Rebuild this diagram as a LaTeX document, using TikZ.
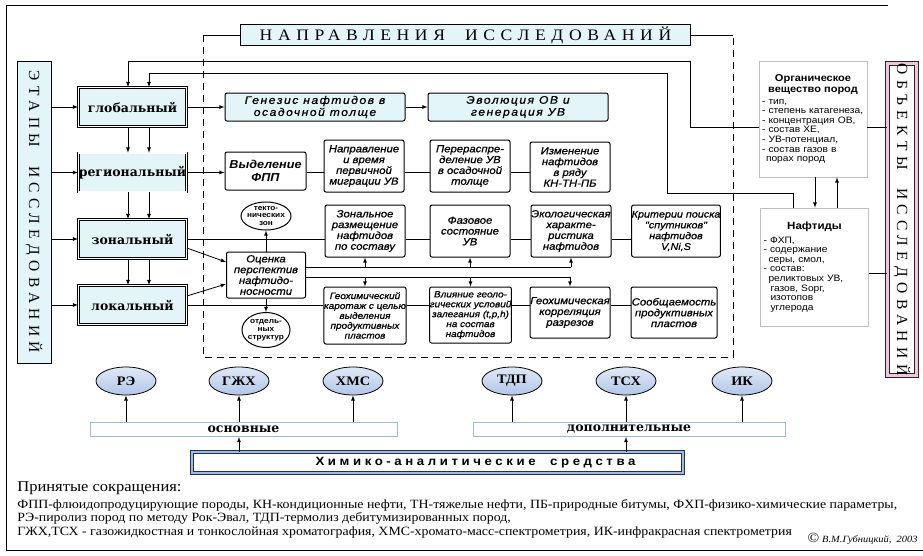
\documentclass[tikz,border=0pt]{standalone}
\usepackage{fontspec}
\setmainfont{Liberation Serif}[FakeStretch=1.1]
\setsansfont{Liberation Sans}[FakeStretch=1.1]
\newfontfamily\heavyserif{DejaVu Serif}
\newfontfamily\titleserif{Liberation Serif}[FakeStretch=1.1,LetterSpace=35]
\newfontfamily\sideserif{Liberation Serif}[LetterSpace=35]
\newfontfamily\spacedsans{Liberation Sans}[FakeStretch=1.1,LetterSpace=30]
\newfontfamily\cellsans{Liberation Sans}[FakeStretch=1.1,FakeBold=0.8]
\usetikzlibrary{shapes.geometric}

\definecolor{paleblue}{RGB}{228,245,249}
\definecolor{ellblue}{RGB}{178,198,232}
\definecolor{barblue}{RGB}{160,185,225}
\definecolor{navy}{RGB}{35,45,85}
\definecolor{pinkband}{RGB}{242,196,222}

\begin{document}
\begin{tikzpicture}[x=1pt, y=-1pt, >=latex, line width=0.8pt,
  stage/.style={draw, double, double distance=1.4pt, line width=0.7pt, fill=paleblue,
    minimum width=108pt, minimum height=39pt, inner sep=0pt,
    font=\heavyserif\bfseries\fontsize{12.5}{12.5}\selectfont},
  sidebar/.style={draw, rotate=-90, inner sep=0pt, line width=1pt,
    font=\sideserif\fontsize{15.5}{15.5}\selectfont},
  titlebox/.style={draw, line width=1.1pt, fill=paleblue, minimum width=450pt,
    minimum height=21pt, inner sep=0pt, font=\titleserif\fontsize{16}{16}\selectfont},
  cell/.style={draw, line width=1pt, rounded corners=2pt, fill=white, align=center, inner sep=0pt,
    minimum width=80pt, minimum height=52pt,
    font=\fontsize{10.3}{10.8}\selectfont\cellsans\itshape},
  topcell/.style={cell, fill=paleblue, minimum width=180pt, minimum height=28pt,
    font=\fontsize{11}{12}\selectfont\cellsans\itshape\addfontfeature{LetterSpace=14}},
  lowcell/.style={cell, minimum height=56pt, font=\fontsize{9.1}{9.9}\selectfont\cellsans\itshape},
  smallell/.style={draw, line width=1pt, ellipse, inner sep=-1.5pt, align=center,
    font=\fontsize{7.5}{7.8}\selectfont\sffamily\bfseries},
  objbox/.style={draw=black!25, fill=white, align=left, text width=102pt, inner sep=3pt,
    font=\fontsize{9.3}{9.6}\selectfont\sffamily},
  method/.style={draw, ellipse, top color=ellblue!40, bottom color=ellblue,
    minimum width=60pt, minimum height=28pt, inner sep=0pt,
    font=\fontsize{13}{13}\selectfont\bfseries},
  groupbar/.style={draw=barblue, line width=1pt, fill=white, minimum height=14pt,
    inner sep=0pt, font=\heavyserif\bfseries\fontsize{12.5}{12.5}\selectfont},
  chembar/.style={draw=navy, double=barblue, double distance=2.5pt, line width=0.8pt,
    fill=white, minimum width=491pt, minimum height=21pt, inner sep=0pt,
    font=\spacedsans\bfseries\fontsize{12}{12}\selectfont}]

\useasboundingbox (0,0) rectangle (923,555);

%frame
\draw (888,5) -- (6,5) -- (6,550) -- (923,550);

%side labels
\node[sidebar, fill=paleblue, minimum width=302pt, minimum height=34pt] (etap) at (34,212)
  {ЭТАПЫ\ \ ИССЛЕДОВАНИЙ};
\node[sidebar, draw=black!85, double=pinkband, double distance=3pt, line width=0.8pt,
  fill=white, minimum width=312pt, minimum height=29.5pt] (obj) at (902,219.5)
  {ОБЪЕКТЫ\ \ ИССЛЕДОВАНИЙ};

%title
\node[titlebox] (dir) at (465.5,35) {НАПРАВЛЕНИЯ\ \ ИССЛЕДОВАНИЙ};
\coordinate (dtl) at (203,35);
\coordinate (dtr) at (733,35);
\coordinate (dbl) at (203,357);
\coordinate (dbr) at (733,357);
\draw (dir.west) -- (dtl);
\draw (dir.east) -- (dtr);
\draw[dashed, dash pattern=on 7pt off 5pt] (dtl) -- (dbl) -- (dbr) -- (dtr);

%stages
\node[stage] (glob) at (132.5,107) {глобальный};
\node[stage] (reg) at (132.5,172.5) {региональный};
\node[stage] (zon) at (132.5,239) {зональный};
\node[stage] (loc) at (132.5,305) {локальный};

\foreach \s in {glob,reg,zon,loc}
\draw[->] (etap.north |- \s.west) -- (\s.west);

\foreach \a/\b in {glob/reg,reg/zon,zon/loc}{
\draw[->] ([xshift=-4.5pt]\a.south) -- ([xshift=-4.5pt]\b.north);
\draw[->] ([xshift=16.5pt]\a.south) -- ([xshift=16.5pt]\b.north);
}

%row 1
\node[topcell] (gen) at (315,107) {Генезис нафтидов в\\осадочной толще};
\node[topcell] (evo) at (518,107) {Эволюция ОВ и\\генерация УВ};
\draw[->] (glob) -- (gen);
\draw[->] (gen) -- (evo);

%row 2
\node[cell, minimum width=81pt, minimum height=38pt,
  font=\fontsize{11.5}{12.5}\selectfont\sffamily\bfseries\itshape] (vyd) at (265.5,171) {Выделение\\ФПП};
\node[cell] (napr) at (364,166) {Направление\\и время\\первичной\\миграции УВ};
\node[cell] (pere) at (470,166) {Перераспре-\\деление УВ\\в осадочной\\толще};
\node[cell, minimum height=50pt] (izm) at (570,167) {Изменение\\нафтидов\\в ряду\\КН-ТН-ПБ};
\draw[->] (reg.east) -- (vyd.west |- reg.east);
\foreach \a/\b in {vyd/napr,napr/pere,pere/izm}
\draw (\a.east |- reg.east) -- (\b.west |- reg.east);

%row 3
\node[smallell, minimum width=50pt, minimum height=28pt] (tekt) at (266,216) {текто-\\нических\\зон};
\node[cell] (zonal) at (365,231) {Зональное\\размещение\\нафтидов\\по составу};
\node[cell] (phase) at (470,231) {Фазовое\\состояние\\УВ};
\node[cell] (eco) at (571,231) {Экологическая\\характе-\\ристика\\нафтидов};
\node[cell, minimum width=88pt, font=\fontsize{9.8}{10.8}\selectfont\cellsans\itshape] (krit) at (676,231)
  {Критерии поиска\\"спутников"\\нафтидов\\V,Ni,S};
\draw (zon.east) -- (zonal.west |- zon.east);
\foreach \a/\b in {zonal/phase,phase/eco,eco/krit}
\draw (\a.east |- zon.east) -- (\b.west |- zon.east);

%estimation
\node[cell, minimum width=79pt, minimum height=46pt] (ocen) at (266,275) {Оценка\\перспектив\\нафтидо-\\носности};
\node[smallell, minimum width=48pt, minimum height=35pt] (otd) at (266,330) {отдель-\\ных\\структур};
\draw[->] ([yshift=-9pt]zon.east) -- ([yshift=13pt]ocen.west);
\draw[->] ([yshift=9pt]loc.east) -- ([yshift=-9pt]ocen.west);
\draw[->] (ocen) -- (tekt);
\draw[->] (ocen) -- (otd);

%row 4
\node[lowcell, minimum width=78pt, minimum height=57pt] (kar) at (365,315.5)
  {Геохимический\\каротаж с целью\\выделения\\продуктивных\\пластов};
\node[lowcell, minimum width=81pt] (vliy) at (470.5,315)
  {Влияние геоло-\\гических условий\\залегания (t,p,h)\\на состав\\нафтидов};
\node[cell, minimum height=51pt] (korr) at (570,312.5) {Геохимическая\\корреляция\\разрезов};
\node[cell, minimum width=86pt, minimum height=51pt] (soob) at (674,312.5) {Сообщаемость\\продуктивных\\пластов};
\draw (loc.east) -- (kar.west |- loc.east);
\foreach \a/\b in {kar/vliy,vliy/korr,korr/soob}
\draw (\a.east |- loc.east) -- (\b.west |- loc.east);

\draw (ocen.east |- 0,267) -- (eco.south |- 0,267);
\foreach \n in {zonal,phase,eco}
\draw[->] (\n.south |- 0,267) -- (\n.south);
\draw (ocen.east |- 0,277) -- (korr.north |- 0,277);
\foreach \n in {kar,vliy,korr}
\draw[->] (\n.north |- 0,277) -- (\n.north);

%objects
\node[objbox, minimum height=116pt] (org) at (813,119)
  {{\centering\fontsize{10}{11}\selectfont\bfseries Органическое\\вещество пород\par}
  \vspace{2pt}
  - тип,\\- степень катагенеза,\\- концентрация ОВ,\\- состав ХЕ,\\- УВ-потенциал,\\- состав газов в\\\hspace*{4pt}порах пород};
\node[objbox, minimum height=118pt] (naft) at (814.5,267)
  {{\centering\fontsize{10.5}{11}\selectfont\bfseries Нафтиды\par}
  \vspace{4pt}
  - ФХП,\\- содержание\\\hspace*{5pt}серы, смол,\\- состав:\\\hspace*{5pt}реликтовых УВ,\\\hspace*{7pt}газов, Sорг,\\\hspace*{7pt}изотопов\\\hspace*{7pt}углерода};
\draw (org.east |- 0,127) -- (obj.south |- 0,127);
\draw (naft.east |- 0,273) -- (obj.south |- 0,273);
\draw[->] ([xshift=2pt]org.south) -- ([xshift=2pt]org.south |- naft.north);
\draw[->] ([xshift=22.5pt]naft.north) -- ([xshift=22.5pt]naft.north |- org.south);
\draw[->] (org.west |- 0,127) -| (690,61) -| ([xshift=-4.5pt]glob.north);
\draw[->] ([xshift=-21.5pt]naft.north) |- (667,193) |- ([xshift=16.5pt]glob.north |- 0,73)
  -- ([xshift=16.5pt]glob.north);

%methods
\node[method] (re) at (126,381) {РЭ};
\node[method] (gzh) at (239,381) {ГЖХ};
\node[method] (hms) at (353,381) {ХМС};
\node[method] (tdp) at (512,381) {ТДП};
\node[method] (tsh) at (626,381) {ТСХ};
\node[method] (ik) at (742,381) {ИК};
\node[groupbar, minimum width=307pt] (osn) at (243.5,429.5) {основные};
\node[groupbar, minimum width=312pt] (dop) at (629,429.5) {дополнительные};
\node[chembar] (chem) at (437.5,462.5) {\hspace*{76pt}Химико-аналитические\ \ средства};
\foreach \e in {re,gzh,hms}
\draw[->] (\e |- osn.north) -- (\e.south);
\foreach \e in {tdp,tsh,ik}
\draw[->] (\e |- dop.north) -- (\e.south);
\draw[->] (gzh |- chem.north) -- (gzh |- osn.south);
\draw[->] (tsh |- chem.north) -- (tsh |- dop.south);

%legend
\node[anchor=west, inner sep=0pt, font=\fontsize{15}{15}\selectfont] (legend) at (17,488) {Принятые сокращения:};
\node[anchor=north west, align=left, inner sep=0pt, font=\fontsize{12.6}{13.3}\selectfont] (abbr) at (17,499)
  {ФПП-флюидопродуцирующие породы, КН-кондиционные нефти, ТН-тяжелые нефти, ПБ-природные битумы, ФХП-физико-химические параметры,\\
   РЭ-пиролиз пород по методу Рок-Эвал, ТДП-термолиз дебитумизированных пород,\\
   ГЖХ,ТСХ - газожидкостная и тонкослойная хроматография, ХМС-хромато-масс-спектрометрия, ИК-инфракрасная спектрометрия};
\node[anchor=east, inner sep=0pt] (copy) at (918,539)
  {{\fontsize{14}{14}\selectfont\textcopyright}\ {\fontsize{9.5}{9.5}\selectfont\itshape В.М.Губницкий,\ \ 2003}};

\end{tikzpicture}
\end{document}
